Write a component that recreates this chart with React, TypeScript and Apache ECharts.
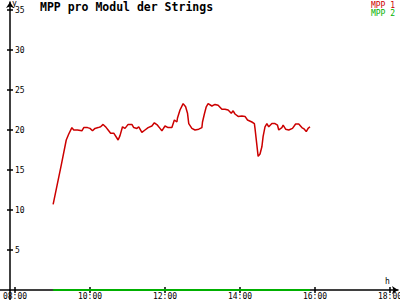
import React, { useEffect, useRef } from "react";
import * as echarts from "echarts";

const titleText = "MPP pro Modul der Strings";
const seriesNames = ["MPP 1", "MPP 2"];
const seriesColors = ["#cc0000", "#00b000"];

const times1 = [
  "09:01", "09:14", "09:22", "09:26", "09:31", "09:34", "09:40", "09:47", "09:50", "09:56",
  "10:00", "10:04", "10:08", "10:13", "10:17", "10:21", "10:26", "10:29", "10:33", "10:38",
  "10:43", "10:45", "10:48", "10:52", "10:56", "11:01", "11:07", "11:10", "11:15", "11:18",
  "11:23", "11:28", "11:33", "11:39", "11:43", "11:48", "11:52", "11:55", "12:00", "12:05",
  "12:11", "12:15", "12:19", "12:20", "12:24", "12:29", "12:33", "12:36", "12:38", "12:43",
  "12:48", "12:54", "12:59", "13:00", "13:03", "13:06", "13:09", "13:15", "13:20", "13:25",
  "13:31", "13:36", "13:41", "13:46", "13:49", "13:52", "13:57", "14:03", "14:08", "14:12",
  "14:19", "14:23", "14:24", "14:27", "14:29", "14:32", "14:35", "14:37", "14:40", "14:43",
  "14:46", "14:51", "14:56", "15:00", "15:02", "15:07", "15:09", "15:13", "15:18", "15:24",
  "15:29", "15:34", "15:39", "15:43", "15:46", "15:49", "15:52"
];
const mpp1 = [
  10.7, 15.6, 18.75, 19.5, 20.3, 20.0, 20.0, 19.9, 20.3, 20.3,
  20.2, 19.9, 20.2, 20.3, 20.4, 20.7, 20.3, 20.0, 19.6, 19.6,
  19.0, 18.75, 19.3, 20.4, 20.2, 20.7, 20.7, 20.3, 20.2, 20.4,
  19.7, 20.0, 20.3, 20.5, 20.9, 20.6, 20.2, 19.9, 20.5, 20.3,
  20.3, 21.25, 21.0, 21.5, 22.5, 23.3, 22.9, 22.1, 20.8, 20.2,
  20.0, 20.1, 20.3, 21.0, 22.0, 22.9, 23.3, 23.0, 23.2, 23.1,
  22.6, 22.6, 22.5, 22.1, 22.4, 22.0, 21.7, 21.75, 21.7, 21.25,
  21.0, 20.8, 20.2, 18.1, 16.7, 17.0, 17.9, 19.2, 20.4, 20.8,
  20.4, 20.8, 20.8, 20.6, 20.0, 20.3, 20.6, 20.1, 20.0, 20.2,
  20.75, 20.75, 20.3, 20.1, 19.8, 20.2, 20.4
];
const times2 = ["09:01", "15:52"];
const mpp2 = [0, 0];

const xTicks = [8, 10, 12, 14, 16, 18];
const yTicks = [5, 10, 15, 20, 25, 30, 35];
const xUnit = "h";
const yUnit = "y";

const toHours = (t: string) => {
  const [h, m] = t.split(":").map(Number);
  return h + m / 60;
};
const fmtHour = (v: number) => `${String(Math.round(v)).padStart(2, "0")}:00`;

const FONT = "DejaVu Sans Mono";
const AXIS_W = 1.5;

export default function App() {
  const ref = useRef<HTMLDivElement>(null);
  useEffect(() => {
    if (!ref.current) return;
    const chart = echarts.init(ref.current, undefined, { renderer: "svg" });
    const xMin = 8 - 5 / 37.5;
    const xMax = 18 + 8 / 37.5;
    const baseX = {
      type: "value",
      min: xMin,
      max: xMax,
      position: "bottom",
      splitLine: { show: false },
    };
    const baseY = {
      type: "value",
      min: 0,
      max: 36,
      position: "left",
      splitLine: { show: false },
    };
    chart.setOption({
      animation: false,
      backgroundColor: "#ffffff",
      title: {
        text: titleText,
        left: 40,
        top: 1,
        padding: 0,
        textStyle: { fontFamily: FONT, fontSize: 11.5, fontWeight: "bold", color: "#000" },
      },
      grid: { left: 10, right: 2, top: 2, bottom: 10, outerBoundsMode: "none" },
      xAxis: [
        {
          ...baseX,
          axisLine: {
            show: true,
            onZero: false,
            lineStyle: { color: "#000000", width: AXIS_W },
            symbol: ["none", "arrow"],
            symbolSize: [6, 6],
          },
          axisTick: { show: true, inside: false, length: 3, customValues: xTicks, lineStyle: { color: "#000000", width: AXIS_W } },
          axisLabel: {
            show: true,
            margin: 2,
            customValues: xTicks,
            formatter: (v: number) => fmtHour(v),
            fontFamily: FONT,
            fontSize: 8,
            color: "#000",
          },
        },
        {
          ...baseX,
          axisLine: { show: false, onZero: false },
          axisTick: { show: true, inside: true, length: 3, customValues: xTicks, lineStyle: { color: "#000000", width: AXIS_W } },
          axisLabel: { show: false },
        },
      ],
      yAxis: [
        {
          ...baseY,
          axisLine: {
            show: true,
            onZero: false,
            lineStyle: { color: "#000000", width: AXIS_W },
            symbol: ["none", "arrow"],
            symbolSize: [6, 6],
          },
          axisTick: { show: true, inside: false, length: 3, customValues: yTicks, lineStyle: { color: "#000000", width: AXIS_W } },
          axisLabel: {
            show: true,
            inside: true,
            margin: 5,
            customValues: yTicks,
            fontFamily: FONT,
            fontSize: 8,
            color: "#000",
          },
        },
        {
          ...baseY,
          axisLine: { show: false, onZero: false },
          axisTick: { show: true, inside: true, length: 3, customValues: yTicks, lineStyle: { color: "#000000", width: AXIS_W } },
          axisLabel: { show: false },
        },
      ],
      graphic: [
        { type: "line", shape: { x1: 0, y1: 290, x2: 10, y2: 290 }, style: { stroke: "#000", lineWidth: AXIS_W } },
        { type: "line", shape: { x1: 10, y1: 290, x2: 10, y2: 300 }, style: { stroke: "#000", lineWidth: AXIS_W } },
        { type: "text", right: 5, top: 1, style: { text: seriesNames[0], fill: seriesColors[0], font: `8px ${FONT}` } },
        { type: "text", right: 5, top: 9, style: { text: seriesNames[1], fill: seriesColors[1], font: `8px ${FONT}` } },
        { type: "text", left: 385, top: 277, style: { text: xUnit, fill: "#000", font: `8px ${FONT}` } },
        { type: "text", left: 12, top: -1, style: { text: yUnit, fill: "#000", font: `8px ${FONT}` } },
      ],
      series: [
        {
          name: seriesNames[0],
          type: "line",
          xAxisIndex: 0,
          yAxisIndex: 0,
          showSymbol: false,
          lineStyle: { color: seriesColors[0], width: 1.5 },
          data: times1.map((t, i) => [toHours(t), mpp1[i]]),
          z: 5,
        },
        {
          name: seriesNames[1],
          type: "line",
          xAxisIndex: 0,
          yAxisIndex: 0,
          showSymbol: false,
          clip: false,
          lineStyle: { color: seriesColors[1], width: 2 },
          data: times2.map((t, i) => [toHours(t), mpp2[i]]),
          z: 6,
        },
      ],
    });
    return () => chart.dispose();
  }, []);
  return <div ref={ref} style={{ width: 400, height: 300, position: "fixed", left: 0, top: 0 }} />;
}
